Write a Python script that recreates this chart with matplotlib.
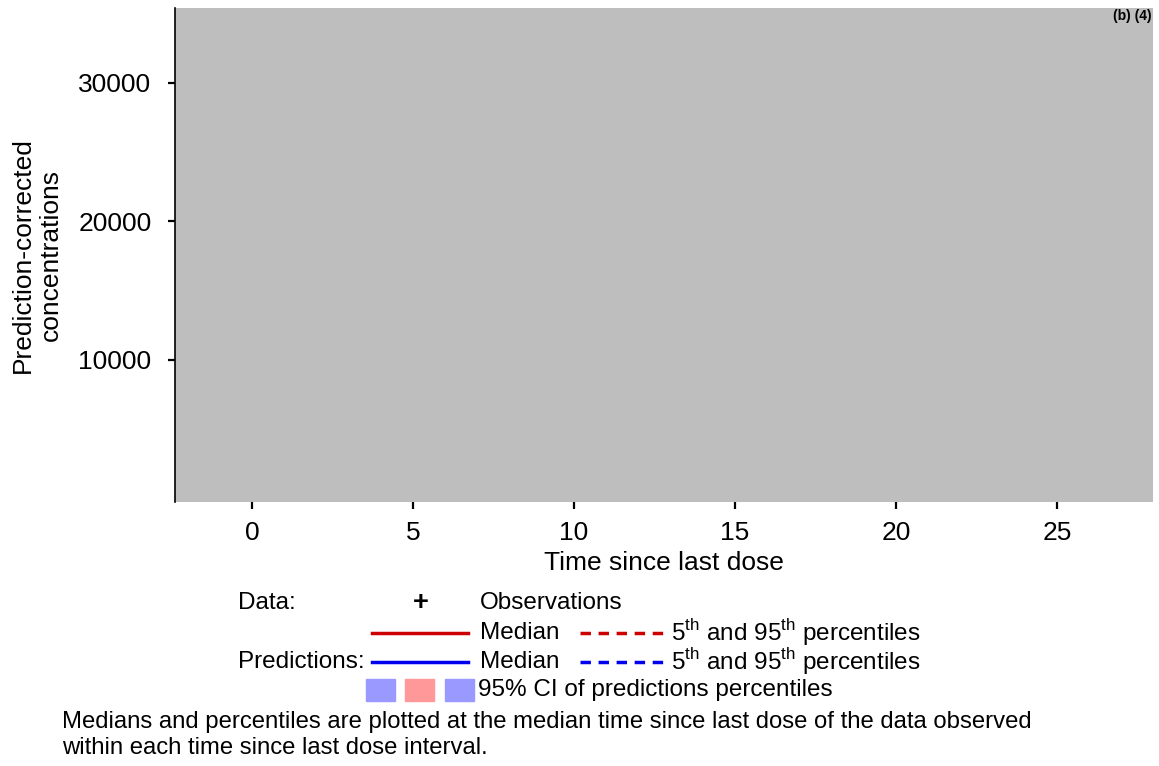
import matplotlib
matplotlib.use("Agg")
from matplotlib import pyplot as plt
from matplotlib.lines import Line2D
from matplotlib.patches import Rectangle

plt.rcParams['font.family'] = ['Liberation Sans', 'DejaVu Sans']
plt.rcParams['mathtext.fontset'] = 'custom'
plt.rcParams['mathtext.rm'] = 'Liberation Sans'

# axis setup
x_ticks = [0, 5, 10, 15, 20, 25]
y_ticks = [10000, 20000, 30000]
x_limits = [-2.39, 27.98]
y_limits = [-250, 35400]
x_label = "Time since last dose"
y_label = "Prediction-corrected\nconcentrations"
corner_tag = "(b) (4)"
note = ("Medians and percentiles are plotted at the median time since last dose of the data observed\n"
        "within each time since last dose interval.")

W, H = 1159, 766
fig = plt.figure(figsize=(W / 100, H / 100), dpi=100)

def fx(px):
    return px / W

def fy(py):
    return 1 - py / H

ax = fig.add_axes([fx(175), fy(502), fx(1153) - fx(175), fy(8) - fy(502)])
ax.set_facecolor('#bebebe')
for s in ['top', 'right', 'bottom']:
    ax.spines[s].set_visible(False)
ax.spines['left'].set_linewidth(1.2)
ax.set_xlim(x_limits)
ax.set_ylim(y_limits)
ax.set_xticks(x_ticks)
ax.set_yticks(y_ticks)
ax.tick_params(axis='both', direction='out', length=5, width=1.6, labelsize=19, pad=9)
ax.tick_params(axis='y', pad=12)
ax.set_xlabel(x_label, fontsize=19, labelpad=4)
ax.set_ylabel(y_label, fontsize=19, linespacing=1.2, va='center')
ax.yaxis.set_label_coords((37 - 175) / 978, 0.5)

fig.text(fx(1152), fy(16), corner_tag, fontsize=10, fontweight='bold', ha='right', va='center')

# legend block
fs = 17.5
red = '#cc0000'
blue = '#0000ee'
fig.text(fx(238), fy(603), "Data:", fontsize=fs, va='center')
fig.text(fx(421), fy(603), "+", fontsize=fs + 2, fontweight='bold', va='center', ha='center')
fig.text(fx(480), fy(603), "Observations", fontsize=fs, va='center')
fig.text(fx(238), fy(662), "Predictions:", fontsize=fs, va='center')

pct = r"5$^{\rm th}$ and 95$^{\rm th}$ percentiles"
for row_y, c in [(633, red), (662, blue)]:
    fig.add_artist(Line2D([fx(372), fx(468)], [fy(row_y), fy(row_y)], color=c, lw=2.5))
    fig.text(fx(480), fy(row_y), "Median", fontsize=fs, va='center')
    fig.add_artist(Line2D([fx(580), fx(665)], [fy(row_y), fy(row_y)], color=c, lw=2.5,
                          linestyle=(0, (3, 2.2))))
    fig.text(fx(671), fy(row_y), pct, fontsize=fs, va='center')

for x0, c in [(366, '#9999ff'), (405, '#ff9999'), (445, '#9999ff')]:
    fig.add_artist(Rectangle((fx(x0), fy(701)), fx(29), fy(679) - fy(701), color=c,
                             transform=fig.transFigure))
fig.text(fx(478), fy(690), "95% CI of predictions percentiles", fontsize=fs, va='center')

fig.text(fx(62), fy(735), note, fontsize=17.2, va='center', linespacing=1.25)

fig.savefig("out.png", dpi=100)
